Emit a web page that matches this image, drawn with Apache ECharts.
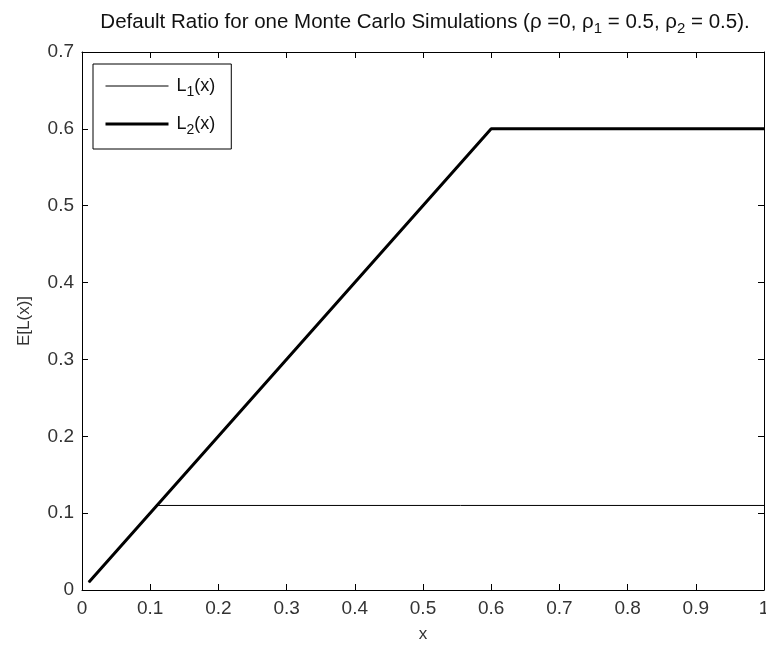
<!DOCTYPE html>
<html>
<head>
<meta charset="utf-8">
<style>
  html, body { margin: 0; padding: 0; background: #fff; }
  #chart { width: 766px; height: 645px; }
</style>
<script src="https://cdn.jsdelivr.net/npm/echarts@6/dist/echarts.min.js"></script>
</head>
<body>
<div id="chart"></div>
<script>
// breakpoints of the two curves (x, E[L(x)])
var l1X = [0.01, 0.11, 1.0]
var l1Y = [0.01, 0.11, 0.11]
var l2X = [0.01, 0.6, 1.0]
var l2Y = [0.01, 0.6, 0.6]
var seriesNames = ['L1(x)', 'L2(x)']

var FONT = '"Liberation Sans", Arial, sans-serif'
var TXT = '#333'

function pairs(xs, ys) {
  var out = []
  for (var i = 0; i < xs.length; i++) {
    out.push([xs[i], ys[i]])
  }
  return out
}

var chart = echarts.init(document.getElementById('chart'))

var boxAxis = {
  min: 0,
  max: 1,
  interval: 0.1,
  axisLine: { show: true, onZero: false, lineStyle: { color: '#000', width: 1 } },
  axisTick: { show: true, inside: true, length: 6, lineStyle: { color: '#000' } },
  splitLine: { show: false }
}

chart.setOption({
  backgroundColor: '#fff',
  animation: false,
  title: {
    text: '{t|Default Ratio for one Monte Carlo Simulations (ρ =0, ρ}{s|1}{t| = 0.5, ρ}{s|2}{t| = 0.5).}',
    left: 420,
    textAlign: 'center',
    top: 3,
    textStyle: {
      fontWeight: 'normal',
      rich: {
        t: { fontFamily: FONT, fontSize: 20.5, color: '#111', fontWeight: 'normal' },
        s: { fontFamily: FONT, fontSize: 15, color: '#111', fontWeight: 'normal', padding: [13, 0, 0, 0] }
      }
    }
  },
  legend: {
    orient: 'vertical',
    left: 93,
    top: 64,
    padding: [12, 16, 12, 11],
    itemGap: 15,
    itemWidth: 63,
    itemHeight: 25,
    borderColor: '#000',
    borderWidth: 1,
    borderRadius: 0,
    backgroundColor: '#fff',
    data: [
      { name: seriesNames[0], itemStyle: { opacity: 0 }, lineStyle: { color: '#000', width: 1 } },
      { name: seriesNames[1], itemStyle: { opacity: 0 }, lineStyle: { color: '#000', width: 3 } }
    ],
    formatter: function(name) {
      return '{t|L}{s|' + name.charAt(1) + '}{t|(x)}'
    },
    textStyle: {
      padding: [0, 0, 0, 3],
      rich: {
        t: { fontFamily: FONT, fontSize: 18, color: '#111' },
        s: { fontFamily: FONT, fontSize: 14, color: '#111', padding: [12, 0, 0, 0] }
      }
    }
  },
  grid: {
    left: 82,
    right: 2,
    top: 52,
    bottom: 55,
    containLabel: false,
    outerBoundsMode: 'none'
  },
  xAxis: [
    Object.assign({}, boxAxis, {
      type: 'value',
      position: 'bottom',
      name: 'x',
      nameLocation: 'middle',
      nameGap: 36,
      nameTextStyle: { fontFamily: FONT, fontSize: 17, color: TXT },
      axisLabel: { show: true, margin: 9, fontFamily: FONT, fontSize: 19, color: TXT }
    }),
    Object.assign({}, boxAxis, {
      type: 'value',
      position: 'top',
      axisLabel: { show: false }
    })
  ],
  yAxis: [
    Object.assign({}, boxAxis, {
      type: 'value',
      position: 'left',
      max: 0.7,
      name: 'E[L(x)]',
      nameLocation: 'middle',
      nameRotate: 90,
      nameGap: 49,
      nameTextStyle: { fontFamily: FONT, fontSize: 17, color: TXT },
      axisLabel: { show: true, margin: 8, fontFamily: FONT, fontSize: 19, color: TXT }
    }),
    Object.assign({}, boxAxis, {
      type: 'value',
      position: 'right',
      max: 0.7,
      axisLabel: { show: false }
    })
  ],
  series: [
    {
      name: seriesNames[0],
      type: 'line',
      data: pairs(l1X, l1Y),
      showSymbol: false,
      symbol: 'none',
      lineStyle: { color: '#000', width: 1 },
      itemStyle: { color: '#000' }
    },
    {
      name: seriesNames[1],
      type: 'line',
      data: pairs(l2X, l2Y),
      showSymbol: false,
      symbol: 'none',
      lineStyle: { color: '#000', width: 3 },
      itemStyle: { color: '#000' }
    }
  ]
})
</script>
</body>
</html>
